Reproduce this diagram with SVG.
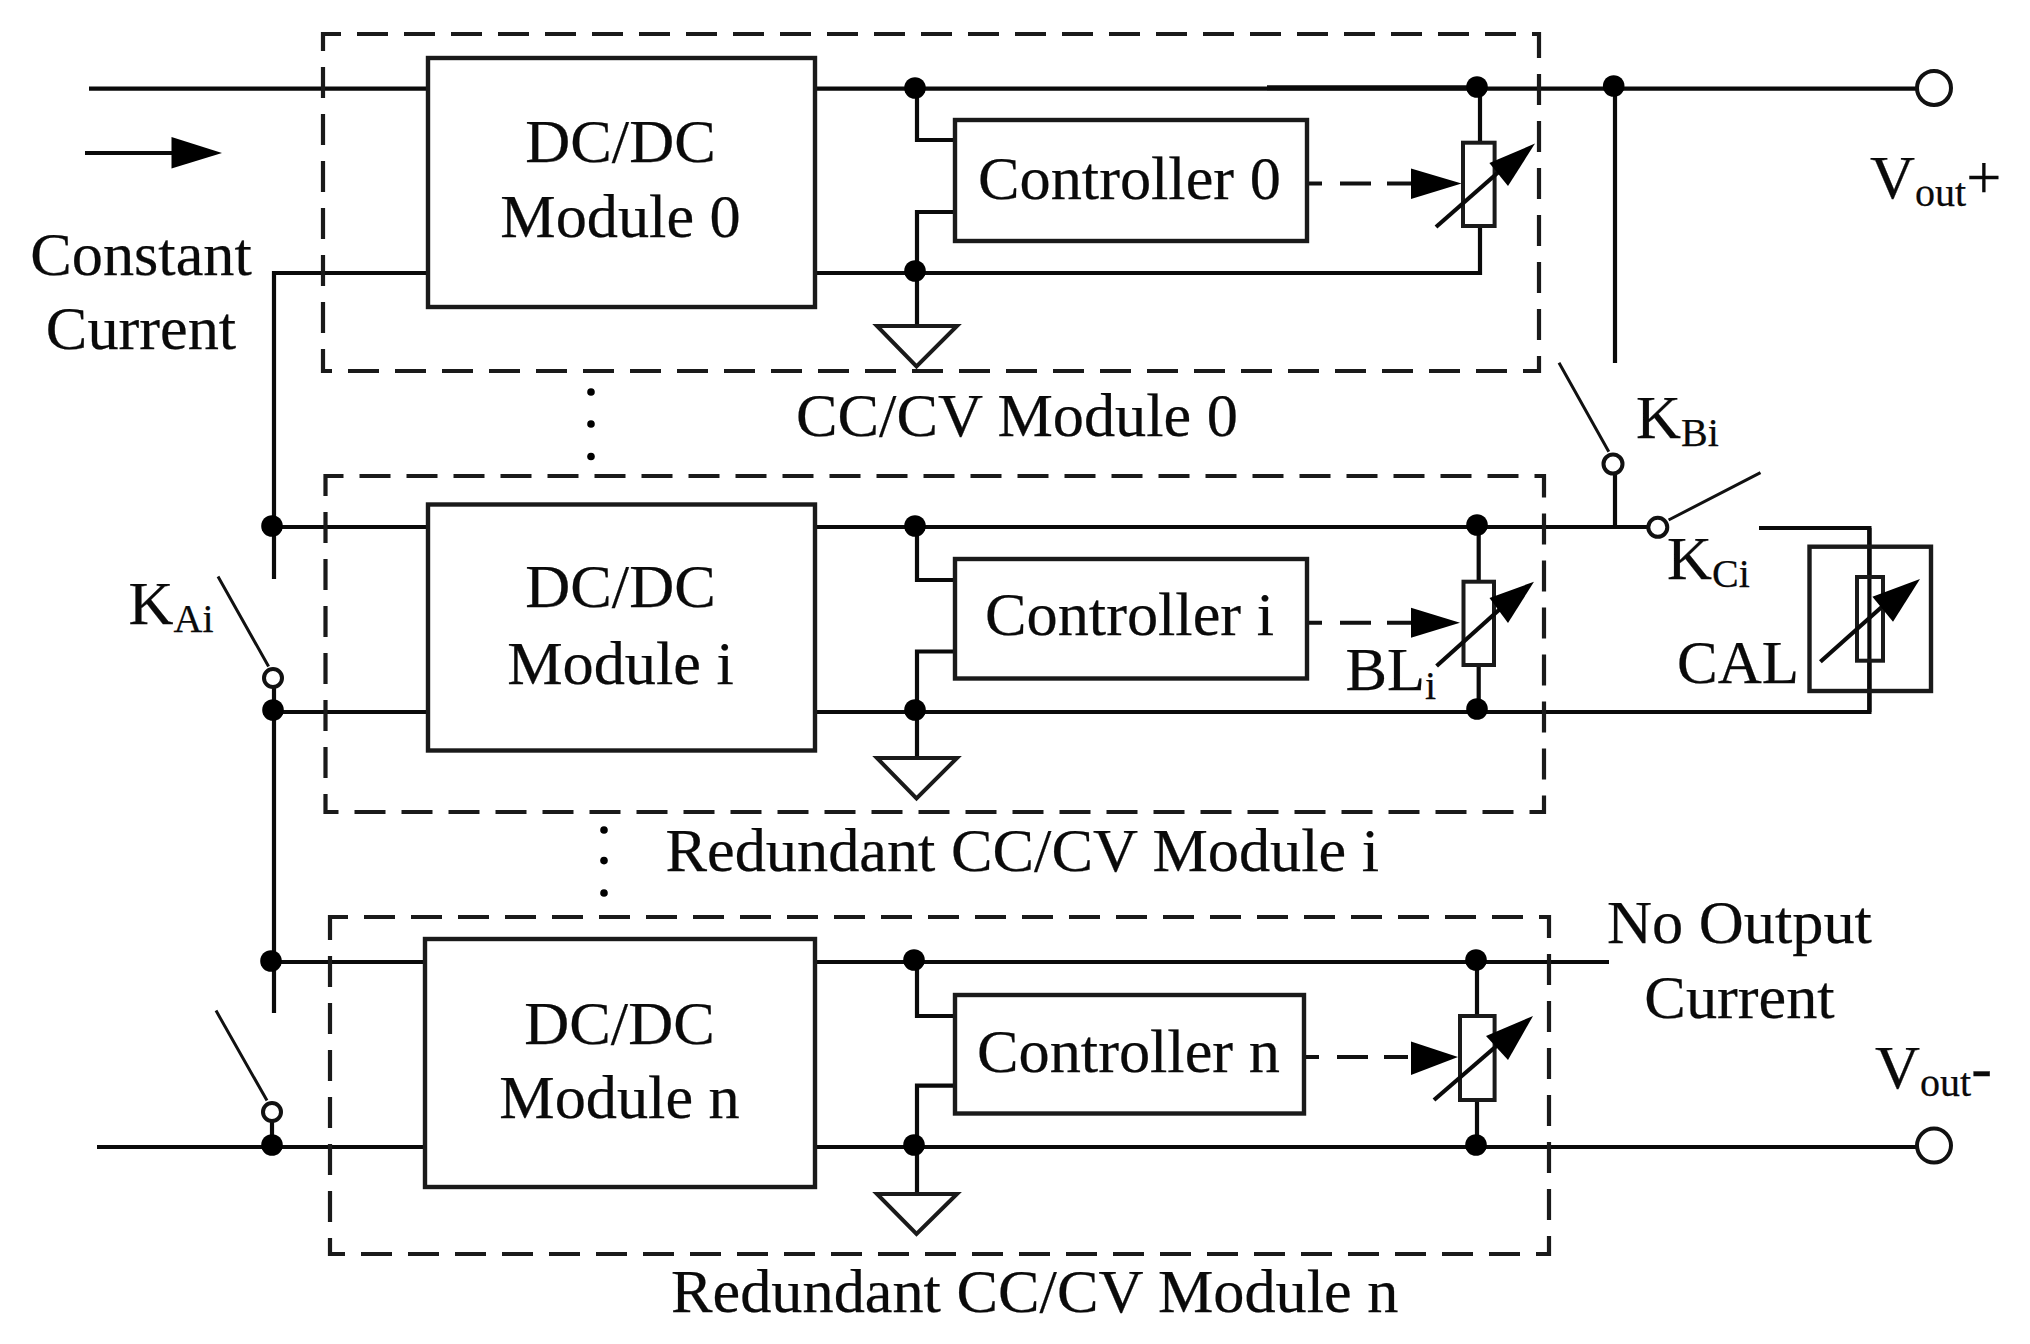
<svg xmlns="http://www.w3.org/2000/svg" width="2030" height="1344" viewBox="0 0 2030 1344">
<style>
.w{fill:none;stroke:#0a0a0a;stroke-width:4.2}
.th{fill:none;stroke:#111;stroke-width:3}
.b{fill:none;stroke:#1a1a1a;stroke-width:4.4}
.r{fill:none;stroke:#1a1a1a;stroke-width:4}
.d{fill:none;stroke:#1a1a1a;stroke-width:4.2;stroke-dasharray:31 16;stroke-dashoffset:13}
.cd{fill:none;stroke:#111;stroke-width:4;stroke-dasharray:15 18 31 16 24}
.dot{fill:#000}
.o{fill:#fff;stroke:#111;stroke-width:4}
.h{fill:#000}
.g{fill:none;stroke:#1a1a1a;stroke-width:4}
text{font-family:"Liberation Serif","Times New Roman",serif;font-size:62.3px;fill:#0a0a0a;stroke:#0a0a0a;stroke-width:.25}
.s{font-size:40px}
</style>
<g id="connectors">
<path class="w" d="M89 88.7H428M815 88.7H1917"/>
<path class="w" d="M1267 87.7H1477" style="stroke-width:5"/>
<path class="w" d="M428 273H274V579"/>
<path class="w" d="M274 687V1013"/>
<path class="w" d="M272 527H428M815 527H1648"/>
<path class="w" d="M274 712H428M815 712H1869.4V528H1759"/>
<path class="w" d="M272 962H425M815 962H1609"/>
<path class="w" d="M97 1147H425M815 1147H1917"/>
<path class="w" d="M917 88V140H955M955 212H917V326"/>
<path class="w" d="M917 527V580H955M955 651.5H917V758"/>
<path class="w" d="M917 962V1016H955M955 1085.6H917V1194"/>
<path class="w" d="M1480 88V142.7M1480 226V273H815"/>
<path class="w" d="M1478.7 527V581.7M1478.7 665V712"/>
<path class="w" d="M1477 962V1016M1477 1100V1147"/>
<path class="w" d="M1869.4 528V577M1869.4 660.7V712"/>
<path class="w" d="M1615 88V363M1615 474V527"/>
<path class="w" d="M272 1122V1147"/>
<path class="w" d="M85 153H172"/>
<path class="h" d="M171.5 137L222 153L171.5 168.5Z"/>
<path class="th" d="M1559 362.7L1608.8 451.7M1668.6 520L1760.5 472.7M218 576.5L268.6 666.5M216 1010.6L267 1100.6"/>
<path class="cd" d="M1307 183.5H1412"/>
<path class="h" d="M1411 168.5L1461.6 183.5L1411 199Z"/>
<path class="cd" d="M1307 622.7H1412"/>
<path class="h" d="M1411 607.7L1460 622.7L1411 637.7Z"/>
<path class="cd" d="M1304 1057H1412"/>
<path class="h" d="M1411 1041.5L1458 1057L1411 1075Z"/>
</g>
<g id="junctions">
<circle class="dot" cx="915" cy="88" r="10.8"/><circle class="dot" cx="915" cy="271" r="10.8"/>
<circle class="dot" cx="1477" cy="87" r="10.8"/><circle class="dot" cx="1613.7" cy="86" r="10.8"/>
<circle class="dot" cx="272" cy="526" r="10.8"/><circle class="dot" cx="273" cy="710" r="10.8"/>
<circle class="dot" cx="915" cy="526" r="10.8"/><circle class="dot" cx="915" cy="710" r="10.8"/>
<circle class="dot" cx="1477" cy="525" r="10.8"/><circle class="dot" cx="1477" cy="709" r="10.8"/>
<circle class="dot" cx="271" cy="961" r="10.8"/><circle class="dot" cx="272" cy="1145" r="10.8"/>
<circle class="dot" cx="914" cy="960" r="10.8"/><circle class="dot" cx="914" cy="1145" r="10.8"/>
<circle class="dot" cx="1476" cy="960" r="10.8"/><circle class="dot" cx="1476" cy="1145" r="10.8"/>
<circle class="dot" cx="591" cy="392" r="3.8"/><circle class="dot" cx="591" cy="424" r="3.8"/><circle class="dot" cx="591" cy="456.5" r="3.8"/>
<circle class="dot" cx="604" cy="830" r="3.8"/><circle class="dot" cx="604" cy="860.6" r="3.8"/><circle class="dot" cx="604" cy="893" r="3.8"/>
</g>
<g id="cc-cv-module-0">
<rect class="d" x="323" y="34" width="1216" height="337"/>
<text x="796" y="436">CC/CV Module 0</text>
</g>
<g id="cc-cv-module-i">
<rect class="d" x="325.5" y="476" width="1218.5" height="336"/>
<text x="665.5" y="871">Redundant CC/CV Module i</text>
</g>
<g id="cc-cv-module-n">
<rect class="d" x="330" y="917" width="1219" height="337"/>
<text x="671" y="1312">Redundant CC/CV Module n</text>
</g>
<g id="dcdc-0">
<rect class="b" x="428" y="58" width="387" height="249"/>
<text x="620.5" y="161.5" text-anchor="middle">DC/DC</text>
<text x="620.5" y="237" text-anchor="middle">Module 0</text>
</g>
<g id="dcdc-i">
<rect class="b" x="428" y="504.5" width="387" height="246"/>
<text x="620.5" y="607" text-anchor="middle">DC/DC</text>
<text x="620.5" y="684" text-anchor="middle">Module i</text>
</g>
<g id="dcdc-n">
<rect class="b" x="425" y="939" width="390" height="248"/>
<text x="619.5" y="1043.5" text-anchor="middle">DC/DC</text>
<text x="619.5" y="1118" text-anchor="middle">Module n</text>
</g>
<g id="controller-0">
<rect class="b" x="955" y="120" width="352" height="121"/>
<text x="978" y="199">Controller 0</text>
</g>
<g id="controller-i">
<rect class="b" x="955" y="559" width="352" height="119.5"/>
<text x="985" y="635">Controller i</text>
</g>
<g id="controller-n">
<rect class="b" x="955" y="995" width="349" height="118.5"/>
<text x="977" y="1072">Controller n</text>
</g>
<g id="ground-0"><path class="g" d="M877 326H957L916.5 366.5Z"/></g>
<g id="ground-i"><path class="g" d="M877 758H957L916.5 798.5Z"/></g>
<g id="ground-n"><path class="g" d="M877 1194H957L916.5 1234Z"/></g>
<g id="resistor-0">
<rect class="r" x="1463" y="142.7" width="31.6" height="83.3"/>
<path class="w" d="M1436 227L1510 162"/>
<path class="h" d="M1535 143.6L1489.4 163L1508 186Z"/>
</g>
<g id="resistor-i">
<rect class="r" x="1463.5" y="581.7" width="30.5" height="83.3"/>
<path class="w" d="M1436.6 666L1510 600"/>
<path class="h" d="M1534 581.7L1489.5 598L1508 623Z"/>
<text x="1345.5" y="689.5">BL<tspan class="s" dy="9">i</tspan></text>
</g>
<g id="resistor-n">
<rect class="r" x="1460" y="1016" width="34.6" height="84"/>
<path class="w" d="M1434 1100L1508 1036"/>
<path class="h" d="M1533 1016L1486 1036L1508 1060Z"/>
</g>
<g id="cal">
<rect class="b" x="1809.5" y="546.7" width="121.5" height="144.3"/>
<rect class="r" x="1857" y="577" width="26" height="83.7"/>
<path class="w" d="M1820.4 661.7L1894 596"/>
<path class="h" d="M1920 579L1872.4 596.7L1893 621.7Z"/>
<text x="1677" y="682.5" style="font-size:61px">CAL</text>
</g>
<g id="switch-kai">
<circle class="o" cx="273" cy="678" r="9"/>
<text x="128.5" y="624">K<tspan class="s" dy="8.4">Ai</tspan></text>
</g>
<g id="switch-kan"><circle class="o" cx="272" cy="1112" r="9"/></g>
<g id="switch-kbi">
<circle class="o" cx="1613" cy="464" r="9.5"/>
<text x="1636" y="437.5">K<tspan class="s" dy="8.3">Bi</tspan></text>
</g>
<g id="switch-kci">
<circle class="o" cx="1657.8" cy="527.3" r="9.5"/>
<text x="1667" y="578.5">K<tspan class="s" dy="8.7">Ci</tspan></text>
</g>
<g id="vout-plus">
<circle class="o" cx="1934" cy="88" r="17"/>
<text x="1870" y="198">V<tspan class="s" dy="8">out</tspan><tspan dy="-8">+</tspan></text>
</g>
<g id="vout-minus">
<circle class="o" cx="1934" cy="1145.6" r="17"/>
<text x="1875" y="1087.5">V<tspan class="s" dy="8">out</tspan><tspan dy="-8">-</tspan></text>
</g>
<g id="input-arrow-label">
<text x="141" y="275" text-anchor="middle">Constant</text>
<text x="141" y="349" text-anchor="middle">Current</text>
</g>
<g id="no-output-label">
<text x="1739.5" y="943" text-anchor="middle">No Output</text>
<text x="1739.5" y="1018" text-anchor="middle">Current</text>
</g>
</svg>
